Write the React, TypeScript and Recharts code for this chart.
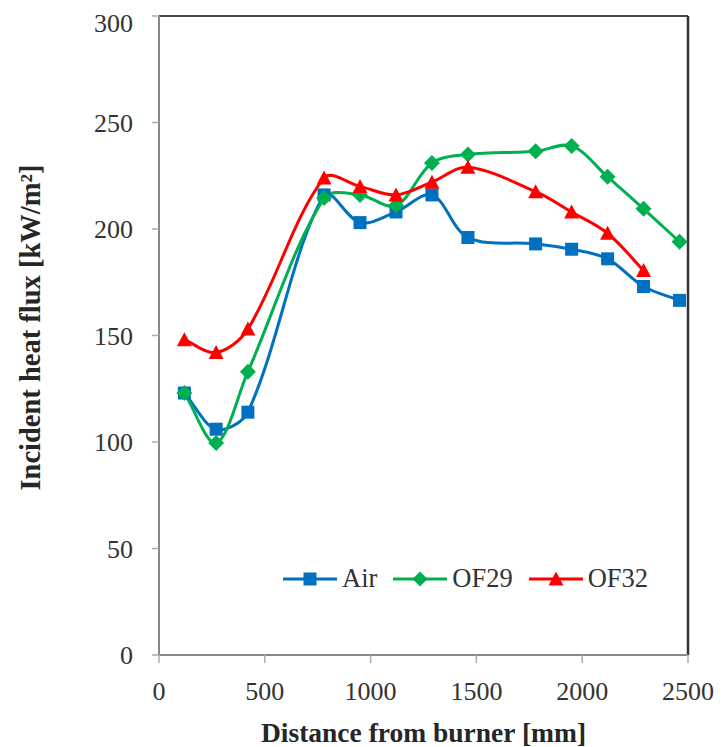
import { Line, LineChart, XAxis, YAxis, Legend, ReferenceLine, Label } from 'recharts';

const distances = [120, 270, 420, 780, 950, 1120, 1290, 1460, 1780, 1950, 2120, 2290, 2460];
const airFlux = [123, 106, 114, 216, 203, 208, 216, 196, 193, 190.5, 186, 173, 166.5];
const of29Flux = [123, 99.5, 133, 214.5, 216, 211, 231, 235, 236.5, 239, 224.5, 209.5, 194];
const of32Flux = [148, 142, 153, 224, 220, 216, 222, 229, 217.5, 208, 198, 180.5, null];

const xTicks = [0, 500, 1000, 1500, 2000, 2500];
const yTicks = [0, 50, 100, 150, 200, 250, 300];

const rows = distances.map((d, i) => ({ d, air: airFlux[i], of29: of29Flux[i], of32: of32Flux[i] }));

const FONT = '"Liberation Serif", serif';
const BLUE = '#0070C0';
const GREEN = '#00B050';
const RED = '#FF0000';

const dist = (a: number[], b: number[]) => Math.hypot(a[0] - b[0], a[1] - b[1]) || 1;

// Excel-like smoothing: bezier through the points, tangents weighted by segment length
const smooth = (context: any) => {
  let pts: number[][] = [];
  return {
    areaStart() {},
    areaEnd() {},
    lineStart() {
      pts = [];
    },
    lineEnd() {
      if (!pts.length) return;
      context.moveTo(pts[0][0], pts[0][1]);
      for (let i = 0; i < pts.length - 1; i++) {
        const p0 = pts[i - 1] || pts[i];
        const p1 = pts[i];
        const p2 = pts[i + 1];
        const p3 = pts[i + 2] || p2;
        const d01 = i > 0 ? dist(p0, p1) : 0;
        const d12 = dist(p1, p2);
        const d23 = i + 2 < pts.length ? dist(p2, p3) : 0;
        const f1 = d12 / (d01 + d12) / 3;
        const f2 = d12 / (d12 + d23) / 3;
        context.bezierCurveTo(
          p1[0] + (p2[0] - p0[0]) * f1,
          p1[1] + (p2[1] - p0[1]) * f1,
          p2[0] - (p3[0] - p1[0]) * f2,
          p2[1] - (p3[1] - p1[1]) * f2,
          p2[0],
          p2[1]
        );
      }
    },
    point(x: number, y: number) {
      pts.push([+x, +y]);
    },
  };
};

const Square = ({ cx, cy, fill, s = 6.5 }: any) =>
  cx == null || cy == null ? null : <rect x={cx - s} y={cy - s} width={s * 2} height={s * 2} fill={fill} />;

const Diamond = ({ cx, cy, fill, s = 8 }: any) =>
  cx == null || cy == null ? null : (
    <polygon points={`${cx},${cy - s} ${cx + s},${cy} ${cx},${cy + s} ${cx - s},${cy}`} fill={fill} />
  );

const Triangle = ({ cx, cy, fill, s = 7.5 }: any) =>
  cx == null || cy == null ? null : (
    <polygon points={`${cx},${cy - 7.5} ${cx + s},${cy + 6.5} ${cx - s},${cy + 6.5}`} fill={fill} />
  );

const legendItems = [
  { name: 'Air', color: BLUE, Mark: Square },
  { name: 'OF29', color: GREEN, Mark: Diamond },
  { name: 'OF32', color: RED, Mark: Triangle },
];

const LegendBox = () => (
  <div style={{ display: 'flex', alignItems: 'center', fontFamily: FONT, fontSize: 26.5, color: '#333' }}>
    {legendItems.map(({ name, color, Mark }) => (
      <div key={name} style={{ display: 'flex', alignItems: 'center', marginRight: 16 }}>
        <svg width={54} height={20}>
          <line x1={0} y1={10} x2={54} y2={10} stroke={color} strokeWidth={3} />
          <Mark cx={27} cy={10} fill={color} s={name === 'Air' ? 6.5 : 7.5} />
        </svg>
        <span style={{ marginLeft: 5 }}>{name}</span>
      </div>
    ))}
  </div>
);

export default function App() {
  return (
    <LineChart width={716} height={739} data={rows} margin={{ top: 8, right: 36, bottom: 32, left: 71 }}>
      <XAxis
        dataKey="d"
        type="number"
        domain={[0, 2500]}
        ticks={xTicks}
        height={60}
        stroke="#888"
        strokeWidth={2}
        tickSize={8}
        tickMargin={19}
        tick={{ fill: '#333', fontFamily: FONT, fontSize: 26 }}
        tickLine={{ stroke: '#aaa', strokeWidth: 1.5 }}
      >
        <Label
          content={(p: any) => {
            const vb = p.viewBox;
            return (
              <text
                x={vb.x + vb.width / 2}
                y={724}
                textAnchor="middle"
                dominantBaseline="central"
                fontFamily={FONT}
                fontSize={27.5}
                fontWeight="bold"
                fill="#262626"
              >
                Distance from burner [mm]
              </text>
            );
          }}
        />
      </XAxis>
      <YAxis
        type="number"
        domain={[0, 300]}
        ticks={yTicks}
        width={80}
        stroke="#888"
        strokeWidth={2}
        tickSize={7}
        tickMargin={19}
        tick={{ fill: '#333', fontFamily: FONT, fontSize: 26 }}
        tickLine={{ stroke: '#aaa', strokeWidth: 1.5 }}
      >
        <Label
          content={(p: any) => {
            const vb = p.viewBox;
            const cy = vb.y + vb.height / 2 - 8;
            return (
              <text
                x={22}
                y={cy}
                transform={`rotate(-90, 22, ${cy})`}
                textAnchor="middle"
                dominantBaseline="central"
                fontFamily={FONT}
                fontSize={28.5}
                fontWeight="bold"
                fill="#262626"
              >
                Incident heat flux [kW/m²]
              </text>
            );
          }}
        />
      </YAxis>
      <ReferenceLine y={300} stroke="#4a4a4a" strokeWidth={2} />
      <ReferenceLine x={2500} stroke="#333" strokeWidth={2.5} />
      <Legend
        layout="horizontal"
        verticalAlign="middle"
        align="center"
        content={() => <LegendBox />}
        wrapperStyle={{ position: 'absolute', left: 275, top: 555, width: 'auto' }}
      />
      <Line
        dataKey="air"
        name="Air"
        type={smooth as any}
        stroke={BLUE}
        strokeWidth={3}
        dot={(p: any) => <Square key={`a${p.index}`} cx={p.cx} cy={p.cy} fill={BLUE} />}
        activeDot={false}
        isAnimationActive={false}
      />
      <Line
        dataKey="of29"
        name="OF29"
        type={smooth as any}
        stroke={GREEN}
        strokeWidth={3}
        dot={(p: any) => <Diamond key={`g${p.index}`} cx={p.cx} cy={p.cy} fill={GREEN} />}
        activeDot={false}
        isAnimationActive={false}
      />
      <Line
        dataKey="of32"
        name="OF32"
        type={smooth as any}
        stroke={RED}
        strokeWidth={3}
        dot={(p: any) => <Triangle key={`r${p.index}`} cx={p.cx} cy={p.cy} fill={RED} />}
        activeDot={false}
        isAnimationActive={false}
      />
    </LineChart>
  );
}
